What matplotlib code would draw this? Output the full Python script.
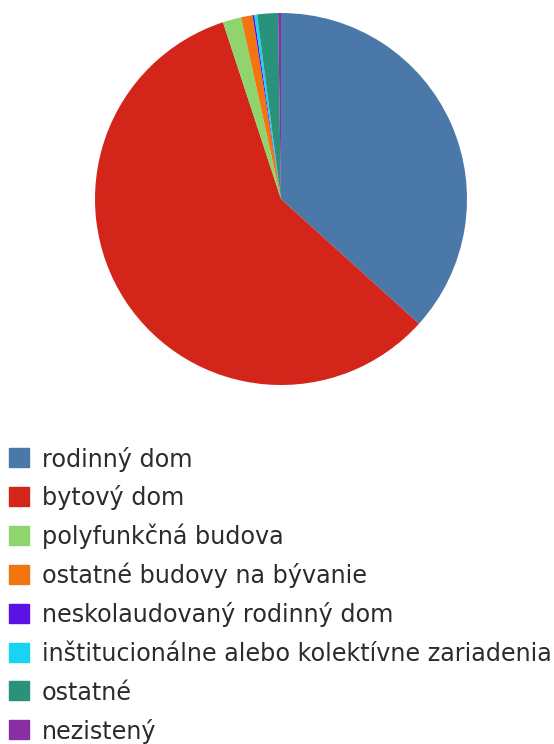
import matplotlib.pyplot as plt
from matplotlib.patches import Rectangle

labels = [
    "rodinný dom",
    "bytový dom",
    "polyfunkčná budova",
    "ostatné budovy na bývanie",
    "neskolaudovaný rodinný dom",
    "inštitucionálne alebo kolektívne zariadenia",
    "ostatné",
    "nezistený",
]
shares = [36.7, 58.25, 1.6, 1.0, 0.15, 0.25, 1.8, 0.25]
colors = ["#4a79a9", "#d3251a", "#8fd46c", "#f2760f", "#5b12e3",
          "#19d3f2", "#2a917a", "#8a2fa3"]

fig = plt.figure(figsize=(5.54, 7.44), dpi=100)
ax = fig.add_axes([0, 0, 1, 1])

# pie in pixel coords (y axis inverted, so start at -90 and go "counterclock")
ax.pie(shares, colors=colors, startangle=-90, counterclock=True,
       center=(281, 199), radius=186, frame=True,
       wedgeprops=dict(linewidth=0))
ax.set_xlim(0, 554)
ax.set_ylim(744, 0)
ax.set_aspect("auto")
ax.axis("off")

# legend drawn by hand
y0, step = 457.5, 38.9
for i, (lab, col) in enumerate(zip(labels, colors)):
    y = y0 + i * step
    ax.add_patch(Rectangle((9, y - 9.5), 20, 19, color=col))
    ax.text(42, y + 9, lab, fontsize=17.2, color="#2b2b2b", va="baseline", ha="left",
            family="DejaVu Sans")

fig.savefig("out.png", dpi=100)
